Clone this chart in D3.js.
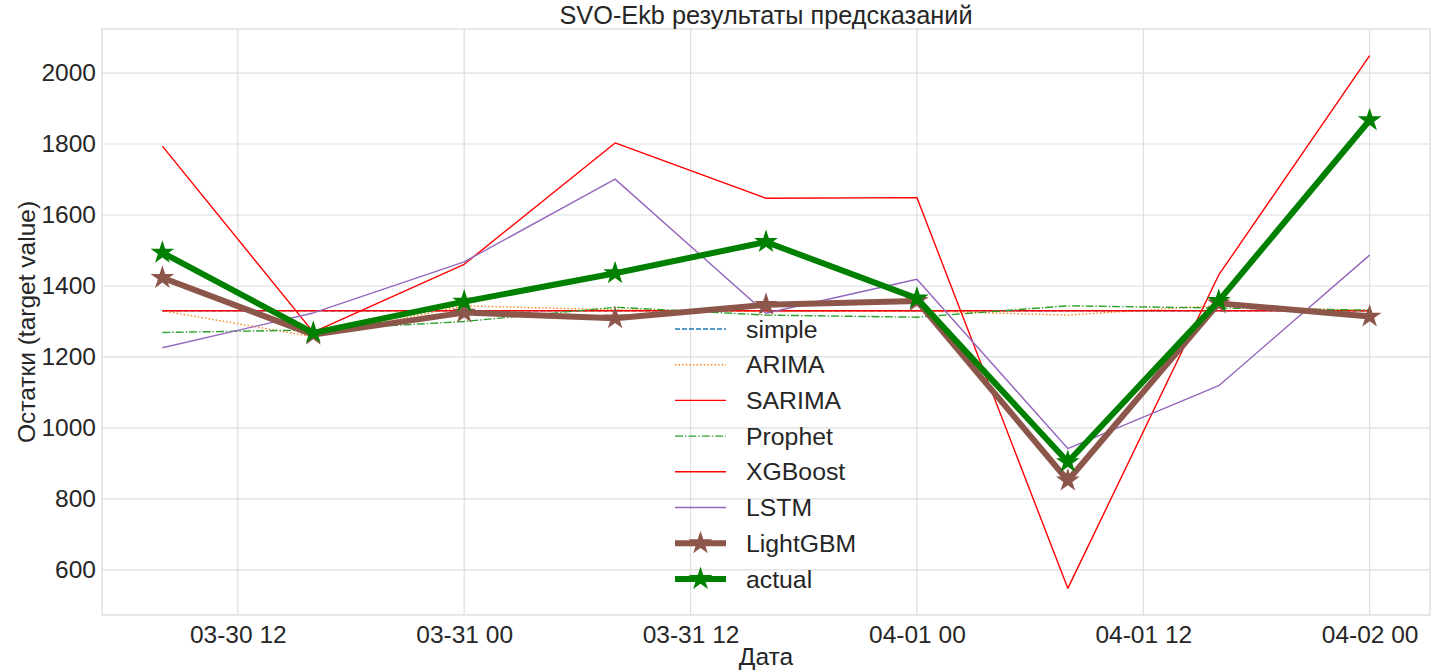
<!DOCTYPE html>
<html>
<head>
<meta charset="utf-8">
<script src="https://cdn.jsdelivr.net/npm/d3@7"></script>
<style>
  body { margin: 0; background: #fff; }
  text { font-family: "Liberation Sans", Arial, sans-serif; fill: #262626; }
</style>
</head>
<body>
<div id="chart"></div>
<script>
// timestamps, every 8 hours
const times = [
  "2023-03-30 08", "2023-03-30 16", "2023-03-31 00", "2023-03-31 08", "2023-03-31 16",
  "2023-04-01 00", "2023-04-01 08", "2023-04-01 16", "2023-04-02 00"
];

const simple   = [1330, 1330, 1330, 1330, 1330, 1330, 1330, 1330, 1330];
const arima    = [1330, 1257, 1344, 1333, 1328, 1330, 1318, 1345, 1330];
const sarima   = [1330, 1330, 1330, 1330, 1330, 1330, 1330, 1330, 1330];
const prophet  = [1269, 1276, 1300, 1340, 1318, 1312, 1344, 1338, 1332];
const xgboost  = [1794, 1270, 1461, 1803, 1647, 1649, 548, 1431, 2049];
const lstm     = [1226, 1324, 1468, 1701, 1323, 1419, 942, 1119, 1487];
const lightgbm = [1423, 1263, 1325, 1309, 1347, 1358, 852, 1351, 1314];
const actual   = [1494, 1268, 1356, 1436, 1524, 1365, 904, 1358, 1867];

const yTicks = [600, 800, 1000, 1200, 1400, 1600, 1800, 2000];

const series = [
  {name: "simple",   values: simple,   color: "#1f77b4", width: 1.4, dash: "5,2"},
  {name: "ARIMA",    values: arima,    color: "#ff7f0e", width: 1.4, dash: "1.4,2.2"},
  {name: "SARIMA",   values: sarima,   color: "#ff0000", width: 1.4, dash: null},
  {name: "Prophet",  values: prophet,  color: "#2ca02c", width: 1.4, dash: "8,2,1.4,2"},
  {name: "XGBoost",  values: xgboost,  color: "#ff0000", width: 1.4, dash: null},
  {name: "LSTM",     values: lstm,     color: "#9467bd", width: 1.4, dash: null},
  {name: "LightGBM", values: lightgbm, color: "#8c564b", width: 6, dash: null, star: true},
  {name: "actual",   values: actual,   color: "#008000", width: 6, dash: null, star: true}
];

const W = 1450, H = 672;
const margin = {top: 29, right: 20, bottom: 57, left: 102};
const width = W - margin.left - margin.right,
      height = H - margin.top - margin.bottom;

const parse = d3.timeParse("%Y-%m-%d %H");
const dates = times.map(parse);

const pad = 3.2 * 3600 * 1000;
const x = d3.scaleTime()
  .domain([+dates[0] - pad, +dates[dates.length - 1] + pad])
  .range([0, width]);

const all = series.flatMap(s => s.values);
const lo = d3.min(all), hi = d3.max(all), m = (hi - lo) * 0.05;
const y = d3.scaleLinear()
  .domain([lo - m, hi + m])
  .range([height, 0]);

const svg = d3.select("#chart").append("svg")
  .attr("width", W)
  .attr("height", H);

const g = svg.append("g")
  .attr("transform", `translate(${margin.left},${margin.top})`);

// grid
const xTicks = x.ticks(d3.timeHour.every(12));
g.append("g").selectAll("line").data(xTicks).enter().append("line")
  .attr("x1", d => x(d)).attr("x2", d => x(d))
  .attr("y1", 0).attr("y2", height)
  .attr("stroke", "#dedede").attr("stroke-width", 1.2);
g.append("g").selectAll("line").data(yTicks).enter().append("line")
  .attr("x1", 0).attr("x2", width)
  .attr("y1", d => y(d)).attr("y2", d => y(d))
  .attr("stroke", "#dedede").attr("stroke-width", 1.2);

// axes (text only, whitegrid style)
const xAxis = g.append("g")
  .attr("transform", `translate(0,${height})`)
  .call(d3.axisBottom(x).tickValues(xTicks).tickFormat(d3.timeFormat("%m-%d %H")).tickSize(0).tickPadding(11));
const yAxis = g.append("g")
  .call(d3.axisLeft(y).tickValues(yTicks).tickFormat(d3.format("d")).tickSize(0).tickPadding(6));
[xAxis, yAxis].forEach(a => {
  a.select(".domain").remove();
  a.selectAll("text").style("font-size", "24.5px").style("font-family", "'Liberation Sans', Arial, sans-serif").attr("fill", "#262626");
});

// frame
g.append("rect")
  .attr("width", width).attr("height", height)
  .attr("fill", "none").attr("stroke", "#d9d9d9").attr("stroke-width", 1.2);

const line = d3.line()
  .x((d, i) => x(dates[i]))
  .y(d => y(d));

const star = d3.symbol().type(d3.symbolStar).size(175);

series.forEach(s => {
  g.append("path")
    .datum(s.values)
    .attr("d", line)
    .attr("fill", "none")
    .attr("stroke", s.color)
    .attr("stroke-width", s.width)
    .attr("stroke-linejoin", "round")
    .attr("stroke-dasharray", s.dash);
  if (s.star) {
    g.append("g").selectAll("path")
      .data(s.values)
      .enter()
      .append("path")
        .attr("d", star)
        .attr("transform", (d, i) => `translate(${x(dates[i])},${y(d)})`)
        .attr("fill", s.color);
  }
});

// legend
const legend = g.append("g")
  .attr("transform", `translate(${675 - margin.left},${329 - margin.top})`);
series.forEach((s, i) => {
  const row = legend.append("g").attr("transform", `translate(0,${i * 35.7})`);
  row.append("line")
    .attr("x1", 0).attr("x2", 51)
    .attr("stroke", s.color)
    .attr("stroke-width", s.width)
    .attr("stroke-dasharray", s.dash);
  if (s.star) {
    row.append("path").attr("d", star).attr("transform", "translate(25.5,0)").attr("fill", s.color);
  }
  row.append("text")
    .attr("x", 71).attr("y", 0).attr("dy", "0.35em")
    .style("font-size", "24.8px")
    .text(s.name);
});

// titles
svg.append("text")
  .attr("x", margin.left + width / 2).attr("y", 24)
  .attr("text-anchor", "middle")
  .style("font-size", "25.3px")
  .text("SVO-Ekb результаты предсказаний");

svg.append("text")
  .attr("x", margin.left + width / 2).attr("y", 665)
  .attr("text-anchor", "middle")
  .style("font-size", "24.5px")
  .text("Дата");

svg.append("text")
  .attr("transform", `translate(35,${margin.top + height / 2}) rotate(-90)`)
  .attr("text-anchor", "middle")
  .style("font-size", "24.5px")
  .text("Остатки (target value)");
</script>
</body>
</html>
